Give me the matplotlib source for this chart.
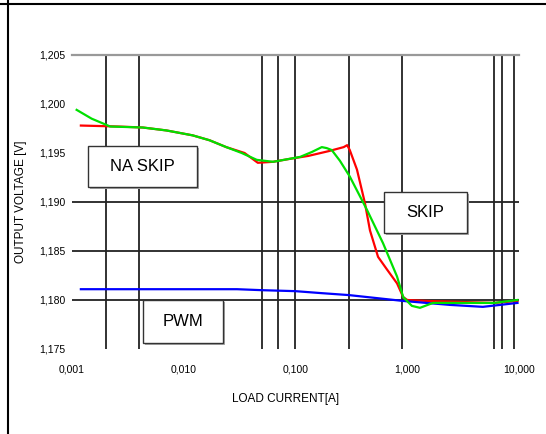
import matplotlib.pyplot as plt
from matplotlib.lines import Line2D
from matplotlib.patches import Rectangle

red_x = [0.0012, 0.0026, 0.0043, 0.007, 0.012, 0.017, 0.024, 0.035, 0.046, 0.063, 0.089,
         0.13, 0.2, 0.27, 0.29, 0.306, 0.355, 0.418, 0.464, 0.548, 0.66, 0.81, 0.92, 1.0,
         1.5, 3.0, 6.0, 9.7]
red_y = [1.1978, 1.1977, 1.1976, 1.1973, 1.1968, 1.1963, 1.1956, 1.1950, 1.1940, 1.1941,
         1.1944, 1.1947, 1.1952, 1.1956, 1.1958, 1.1953, 1.1933, 1.1899, 1.1871, 1.1844,
         1.1831, 1.1817, 1.1803, 1.1800, 1.1799, 1.1798, 1.1797, 1.1799]

green_x = [0.0011, 0.0015, 0.0022, 0.0043, 0.007, 0.012, 0.017, 0.024, 0.033, 0.045,
           0.063, 0.11, 0.14, 0.172, 0.19, 0.211, 0.25, 0.306, 0.436, 0.607, 0.81, 0.92,
           1.1, 1.3, 1.7, 3.0, 6.0, 9.7]
green_y = [1.1994, 1.1985, 1.1977, 1.1976, 1.1973, 1.1968, 1.1963, 1.1956, 1.1950, 1.1943,
           1.1941, 1.1946, 1.1951, 1.1956, 1.1955, 1.1953, 1.1942, 1.1926, 1.1892, 1.1858,
           1.1824, 1.1803, 1.1794, 1.1792, 1.1797, 1.1797, 1.1797, 1.1800]

blue_x = [0.0012, 0.01, 0.03, 0.05, 0.1, 0.17, 0.3, 0.92, 2.4, 4.75, 9.7]
blue_y = [1.1811, 1.1811, 1.1811, 1.1810, 1.1809, 1.1807, 1.1805, 1.1799, 1.1795, 1.1793,
          1.1797]

# Gitterlinien
v_lines = [0.002, 0.004, 0.05, 0.07, 0.1, 0.3, 0.9, 6.0, 7.0, 9.0]
h_lines = [1.190, 1.185, 1.180]

x_ticks = [0.001, 0.01, 0.1, 1, 10]
x_labels = ['0,001', '0,010', '0,100', '1,000', '10,000']
y_ticks = [1.175, 1.180, 1.185, 1.190, 1.195, 1.200, 1.205]
y_labels = ['1,175', '1,180', '1,185', '1,190', '1,195', '1,200', '1,205']

plt.rcParams['font.family'] = ['Liberation Sans', 'DejaVu Sans']

fig = plt.figure(figsize=(5.46, 4.34), dpi=100)
ax = fig.add_axes([0.1319, 0.1959, 0.8186, 0.6774])

for x in v_lines:
    ax.axvline(x, color='#222222', lw=1.3, zorder=1)
for y in h_lines:
    ax.axhline(y, color='#222222', lw=1.3, zorder=1)
ax.axhline(1.205, color='#999999', lw=1.6, zorder=1, clip_on=False)

ax.plot(red_x, red_y, color='#ff0000', lw=1.6, zorder=3)
ax.plot(green_x, green_y, color='#00e000', lw=1.6, zorder=4)
ax.plot(blue_x, blue_y, color='#0000ff', lw=1.6, zorder=3)

ax.set_xscale('log')
ax.set_xlim(0.001, 10)
ax.set_ylim(1.175, 1.205)
ax.set_xticks(x_ticks)
ax.set_xticklabels(x_labels)
ax.set_yticks(y_ticks)
ax.set_yticklabels(y_labels)
ax.minorticks_off()
ax.tick_params(axis='both', length=0, labelsize=7.5)
ax.tick_params(axis='x', pad=11)
ax.tick_params(axis='y', pad=5)
for s in ax.spines.values():
    s.set_visible(False)

ax.set_ylabel('OUTPUT VOLTAGE [V]', fontsize=8.5)
ax.yaxis.set_label_coords(-0.1, 0.5)
ax.set_xlabel('LOAD CURRENT[A]', fontsize=8.5)
ax.xaxis.set_label_coords(0.477, -0.15)

# Beschriftungsboxen (Achsenkoordinaten)
boxes = [('NA SKIP', 0.036, 0.551, 0.244, 0.139),
         ('SKIP', 0.698, 0.395, 0.186, 0.139),
         ('PWM', 0.159, 0.020, 0.179, 0.146)]
for label, bx, by, bw, bh in boxes:
    ax.add_patch(Rectangle((bx + 0.005, by - 0.007), bw, bh, transform=ax.transAxes,
                           facecolor='#aaaaaa', edgecolor='none', zorder=5))
    ax.add_patch(Rectangle((bx, by), bw, bh, transform=ax.transAxes,
                           facecolor='white', edgecolor='#333333', lw=1.0, zorder=6))
    ax.text(bx + bw / 2, by + bh / 2, label, transform=ax.transAxes,
            ha='center', va='center', fontsize=12, zorder=7)

# Rahmen
fig.add_artist(Line2D([0, 1], [0.991, 0.991], transform=fig.transFigure, color='black', lw=1.5))
fig.add_artist(Line2D([0.0145, 0.0145], [0, 1], transform=fig.transFigure, color='black', lw=1.5))

fig.savefig('out.png', dpi=100)
